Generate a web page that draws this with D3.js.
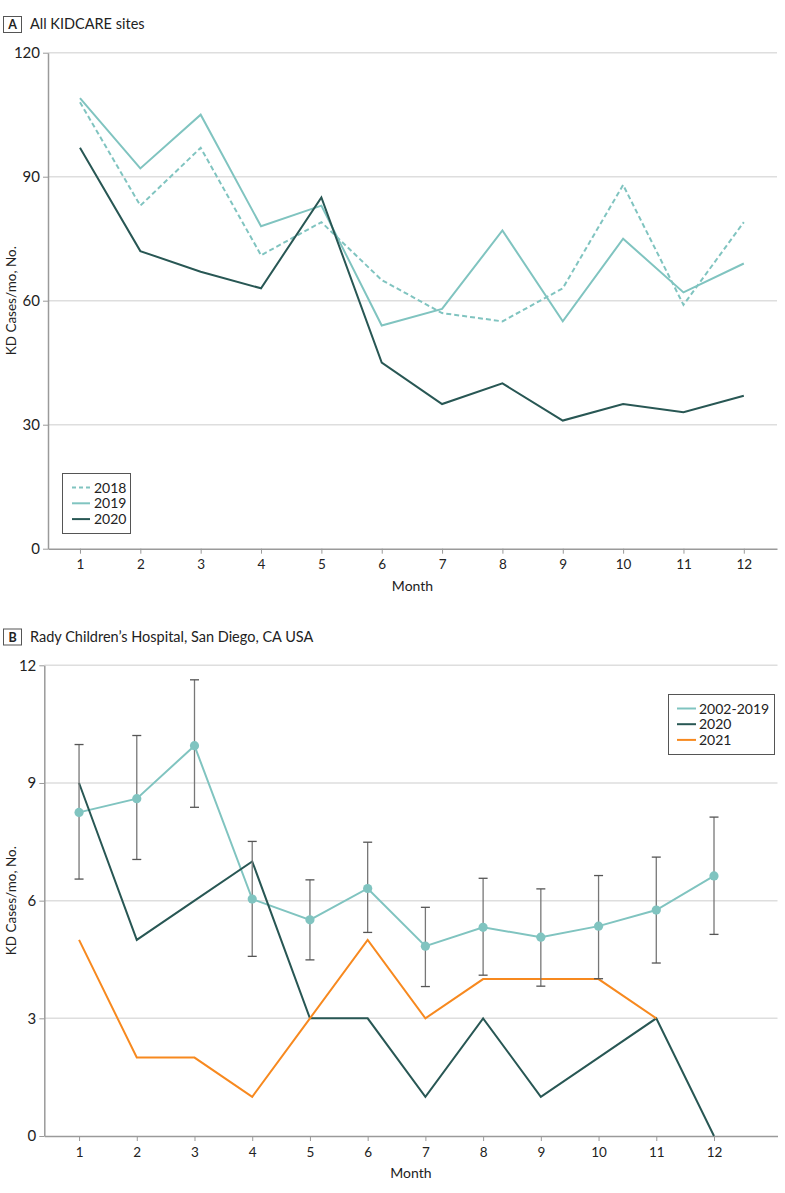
<!DOCTYPE html>
<html>
<head>
<meta charset="utf-8">
<script src="https://cdn.jsdelivr.net/npm/d3@7"></script>
<style>
  html, body { margin: 0; padding: 0; background: #fff; }
  svg { display: block; font-family: Lato, "Open Sans", "Noto Sans", sans-serif; }
</style>
</head>
<body>
<svg id="chart" width="785" height="1193"></svg>
<script>
// ---------- DATA ----------
const months = [1,2,3,4,5,6,7,8,9,10,11,12];

// Panel A: All KIDCARE sites
const seriesA_2018 = [108, 83, 97, 71, 79, 65, 57, 55, 63, 88, 59, 79];
const seriesA_2019 = [109, 92, 105, 78, 83, 54, 58, 77, 55, 75, 62, 69];
const seriesA_2020 = [97, 72, 67, 63, 85, 45, 35, 40, 31, 35, 33, 37];
const yTicksA = [0, 30, 60, 90, 120];

// Panel B: Rady Children's Hospital
const meanB_2002_2019 = [8.25, 8.60, 9.95, 6.04, 5.51, 6.31, 4.84, 5.32, 5.07, 5.35, 5.76, 6.63];
const upperB_2002_2019 = [9.98, 10.21, 11.63, 7.51, 6.53, 7.49, 5.83, 6.57, 6.30, 6.64, 7.11, 8.13];
const lowerB_2002_2019 = [6.55, 7.05, 8.38, 4.58, 4.49, 5.19, 3.81, 4.10, 3.82, 4.01, 4.41, 5.14];
const seriesB_2020 = [9, 5, 6, 7, 3, 3, 1, 3, 1, 2, 3, 0];
const seriesB_2021 = [5, 2, 2, 1, 3, 5, 3, 4, 4, 4, 3];
const yTicksB = [0, 3, 6, 9, 12];

// ---------- STYLE ----------
const cLight = "#80c4c0";
const cDark = "#285754";
const cOrange = "#f7891f";
const cGrid = "#dedede";
const cAxis = "#9a9a9a";
const cText = "#222";

const svg = d3.select("#chart");

function header(y, letter, title) {
  const g = svg.append("g");
  g.append("rect").attr("x", 3.5).attr("y", y - 12.5).attr("width", 18).attr("height", 16)
    .attr("fill", "#fff").attr("stroke", "#555").attr("stroke-width", 1);
  g.append("text").attr("x", 12.5).attr("y", y).attr("text-anchor", "middle")
    .attr("font-size", 12.5).attr("font-weight", "bold").attr("fill", cText).text(letter);
  g.append("text").attr("x", 30).attr("y", y).attr("font-size", 14.5).attr("fill", cText).text(title);
}

function panel(cfg) {
  const x = d3.scaleLinear().domain(cfg.xDomain).range(cfg.xRange);
  const y = d3.scaleLinear().domain(cfg.yDomain).range(cfg.yRange);
  const g = svg.append("g");

  // gridlines
  g.selectAll("line.grid").data(cfg.yTicks.filter(d => d !== 0)).join("line")
    .attr("x1", cfg.xRange[0]).attr("x2", cfg.xRange[1])
    .attr("y1", d => y(d)).attr("y2", d => y(d))
    .attr("stroke", cGrid).attr("stroke-width", 1.5);

  // axes
  const yAxis = d3.axisLeft(y).tickValues(cfg.yTicks).tickSize(5).tickSizeOuter(0).tickPadding(3);
  const gy = g.append("g").attr("transform", `translate(${cfg.xRange[0]},0)`).call(yAxis);
  const xAxis = d3.axisBottom(x).tickValues(months).tickSize(5).tickSizeOuter(0).tickPadding(6);
  const gx = g.append("g").attr("transform", `translate(0,${cfg.yRange[0]})`).call(xAxis);
  [gx, gy].forEach(a => {
    a.select(".domain").attr("stroke", cAxis).attr("stroke-width", 1.5);
    a.selectAll(".tick line").attr("stroke", cAxis).attr("stroke-width", 1);
    a.selectAll(".tick text").attr("fill", cText).attr("font-size", 13.5)
      .attr("font-family", "Lato, 'Open Sans', sans-serif");
  });
  gy.selectAll(".tick text").attr("font-size", 15);

  // axis titles
  g.append("text").attr("x", (cfg.xRange[0] + cfg.xRange[1]) / 2).attr("y", cfg.yRange[0] + 42)
    .attr("text-anchor", "middle").attr("font-size", 14).attr("fill", cText).text("Month");
  g.append("text")
    .attr("transform", `translate(16,${(cfg.yRange[0] + cfg.yRange[1]) / 2}) rotate(-90)`)
    .attr("text-anchor", "middle").attr("font-size", 13.5).attr("fill", cText).text("KD Cases/mo, No.");

  return {x, y, g};
}

// ---------- PANEL A ----------
header(29, "A", "All KIDCARE sites");
const A = panel({
  xDomain: [0.47, 12.55], xRange: [48, 777],
  yDomain: [0, 120], yRange: [548.7, 52.7],
  yTicks: yTicksA
});
const lineA = d3.line().x((d, i) => A.x(months[i])).y(d => A.y(d));
A.g.append("path").datum(seriesA_2018).attr("d", lineA).attr("fill", "none")
  .attr("stroke", cLight).attr("stroke-width", 2).attr("stroke-dasharray", "5,3");
A.g.append("path").datum(seriesA_2019).attr("d", lineA).attr("fill", "none")
  .attr("stroke", cLight).attr("stroke-width", 2);
A.g.append("path").datum(seriesA_2020).attr("d", lineA).attr("fill", "none")
  .attr("stroke", cDark).attr("stroke-width", 2);

// legend A
(function () {
  const lg = svg.append("g");
  lg.append("rect").attr("x", 62.5).attr("y", 473.5).attr("width", 68).attr("height", 60)
    .attr("fill", "#fff").attr("stroke", "#555").attr("stroke-width", 1);
  const items = [
    {label: "2018", color: cLight, dash: "4,3"},
    {label: "2019", color: cLight, dash: null},
    {label: "2020", color: cDark, dash: null}
  ];
  items.forEach((it, i) => {
    const yy = 487.5 + i * 15.8;
    lg.append("line").attr("x1", 72).attr("x2", 90).attr("y1", yy).attr("y2", yy)
      .attr("stroke", it.color).attr("stroke-width", 2).attr("stroke-dasharray", it.dash);
    lg.append("text").attr("x", 94).attr("y", yy + 5).attr("font-size", 14).attr("fill", cText).text(it.label);
  });
})();

// ---------- PANEL B ----------
header(641.5, "B", "Rady Children\u2019s Hospital, San Diego, CA USA");
const B = panel({
  xDomain: [0.398, 13.1], xRange: [44.3, 777.5],
  yDomain: [0, 12], yRange: [1136, 665.3],
  yTicks: yTicksB
});
const lineB = d3.line().x((d, i) => B.x(months[i])).y(d => B.y(d));

// 2002-2019 mean line
B.g.append("path").datum(meanB_2002_2019).attr("d", lineB).attr("fill", "none")
  .attr("stroke", cLight).attr("stroke-width", 2);
// 2020 and 2021
B.g.append("path").datum(seriesB_2020).attr("d", lineB).attr("fill", "none")
  .attr("stroke", cDark).attr("stroke-width", 2);
B.g.append("path").datum(seriesB_2021).attr("d", lineB).attr("fill", "none")
  .attr("stroke", cOrange).attr("stroke-width", 2);

// error bars
const eb = B.g.selectAll("g.eb").data(months).join("g");
eb.append("line").attr("x1", d => B.x(d)).attr("x2", d => B.x(d))
  .attr("y1", (d, i) => B.y(upperB_2002_2019[i])).attr("y2", (d, i) => B.y(lowerB_2002_2019[i]))
  .attr("stroke", "#777").attr("stroke-width", 1.3);
eb.append("line").attr("x1", d => B.x(d) - 4.5).attr("x2", d => B.x(d) + 4.5)
  .attr("y1", (d, i) => B.y(upperB_2002_2019[i])).attr("y2", (d, i) => B.y(upperB_2002_2019[i]))
  .attr("stroke", "#555").attr("stroke-width", 1.3);
eb.append("line").attr("x1", d => B.x(d) - 4.5).attr("x2", d => B.x(d) + 4.5)
  .attr("y1", (d, i) => B.y(lowerB_2002_2019[i])).attr("y2", (d, i) => B.y(lowerB_2002_2019[i]))
  .attr("stroke", "#555").attr("stroke-width", 1.3);
// mean dots
B.g.selectAll("circle.mean").data(meanB_2002_2019).join("circle")
  .attr("cx", (d, i) => B.x(months[i])).attr("cy", d => B.y(d)).attr("r", 4.6)
  .attr("fill", cLight);

// legend B
(function () {
  const lg = svg.append("g");
  lg.append("rect").attr("x", 668.5).attr("y", 694.5).attr("width", 106).attr("height", 60)
    .attr("fill", "#fff").attr("stroke", "#555").attr("stroke-width", 1);
  const items = [
    {label: "2002-2019", color: cLight},
    {label: "2020", color: cDark},
    {label: "2021", color: cOrange}
  ];
  items.forEach((it, i) => {
    const yy = 708.5 + i * 15.7;
    lg.append("line").attr("x1", 677).attr("x2", 696).attr("y1", yy).attr("y2", yy)
      .attr("stroke", it.color).attr("stroke-width", 2);
    lg.append("text").attr("x", 699).attr("y", yy + 5).attr("font-size", 14).attr("fill", cText).text(it.label);
  });
})();
</script>
</body>
</html>
